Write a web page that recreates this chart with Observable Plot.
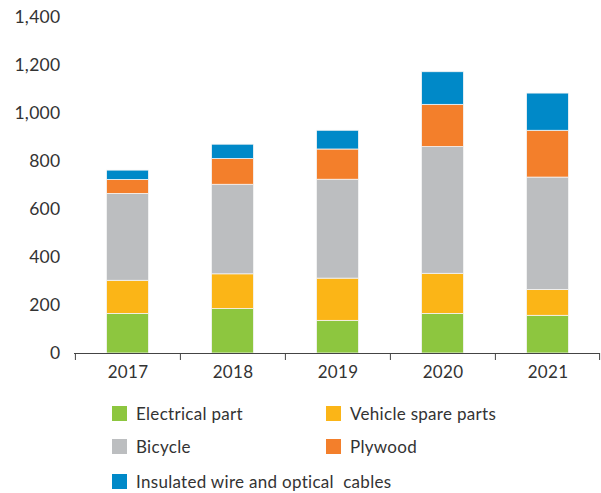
<!DOCTYPE html>
<html>
<head>
<meta charset="utf-8">
<script src="https://cdn.jsdelivr.net/npm/d3@7"></script>
<script src="https://cdn.jsdelivr.net/npm/@observablehq/plot@0.6"></script>
<style>
  body { margin: 0; background: #fff; font-family: Lato, "Open Sans", sans-serif; color: #333; }
  #legend { position: relative; height: 108px; font-size: 17px; letter-spacing: 0.3px; }
  .item { position: absolute; display: flex; align-items: center; height: 20px; }
  .sw { width: 15px; height: 15px; margin-right: 9px; }
</style>
</head>
<body>
<div id="chart"></div>
<div id="legend"></div>
<script>
const years = ["2017", "2018", "2019", "2020", "2021"];
const categories = ["Electrical part", "Vehicle spare parts", "Bicycle", "Plywood", "Insulated wire and optical  cables"];
const colors = ["#8DC63F", "#FBB517", "#BCBEC0", "#F37F2B", "#0089C8"];
const electrical = [165, 185, 136, 165, 157];
const vehicle = [138, 145, 176, 167, 108];
const bicycle = [362, 373, 412, 528, 468];
const plywood = [58, 107, 126, 176, 195];
const insulated = [39, 60, 78, 136, 155];
const yTicks = [0, 200, 400, 600, 800, 1000, 1200, 1400];

const series = [electrical, vehicle, bicycle, plywood, insulated];
const data = [];
categories.forEach((c, ci) => years.forEach((y, yi) => data.push({year: y, cat: c, value: series[ci][yi]})));

const W = 601, H = 385, ml = 74, mr = 1;
const bw = (W - ml - mr) / years.length;

const chart = Plot.plot({
  width: W, height: H,
  marginLeft: ml, marginRight: mr, marginTop: 17, marginBottom: 32,
  style: {fontFamily: "Lato, 'Open Sans', sans-serif", fontSize: "17px", color: "#333", background: "white", letterSpacing: "0.3px"},
  x: {domain: years, padding: 0, label: null},
  y: {domain: [0, 1400], label: null},
  color: {domain: categories, range: colors},
  marks: [
    Plot.axisY({ticks: yTicks, tickSize: 0, tickPadding: 14, tickFormat: d3.format(","), label: null, fontSize: 17.5}),
    Plot.barY(data, Plot.stackY({x: "year", y: "value", fill: "cat", order: categories, insetLeft: bw * 0.3, insetRight: bw * 0.3, stroke: "#f4f4f4", strokeWidth: 0.8})),
    Plot.ruleY([0], {stroke: "#444", strokeWidth: 1.2}),
    Plot.axisX({tickSize: 0, tickPadding: 12, label: null, fontSize: 17}),
    Plot.axisX({tickSize: 7, tickFormat: () => "", dx: -bw / 2, label: null, stroke: "#444"}),
    Plot.axisX({ticks: [years[years.length - 1]], tickSize: 7, tickFormat: () => "", dx: bw / 2 - 1, label: null, stroke: "#444"})
  ]
});
document.getElementById("chart").appendChild(chart);

const legend = document.getElementById("legend");
const pos = [[112, 18], [326, 18], [112, 51], [326, 51], [112, 86]];
categories.forEach((c, i) => {
  const el = document.createElement("div");
  el.className = "item";
  el.style.left = pos[i][0] + "px";
  el.style.top = pos[i][1] + "px";
  el.innerHTML = `<div class="sw" style="background:${colors[i]}"></div><span>${c.replace(/  /g, " &nbsp;")}</span>`;
  legend.appendChild(el);
});
</script>
</body>
</html>
